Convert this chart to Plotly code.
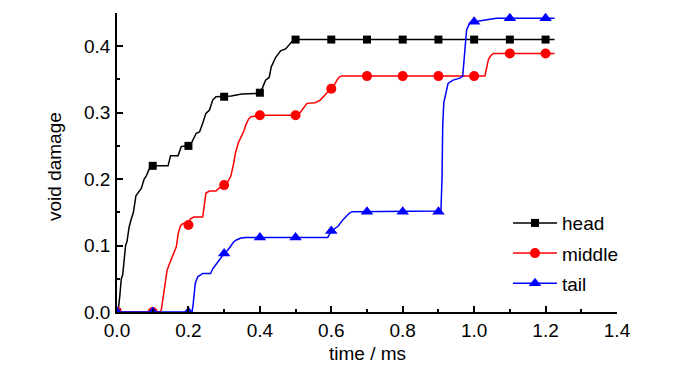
import plotly.graph_objects as go

# ---------------- data ----------------
marker_t = [0.0, 0.1, 0.2, 0.3, 0.4, 0.5, 0.6, 0.7, 0.8, 0.9, 1.0, 1.1, 1.2]
head_marker_v = [0.0, 0.220, 0.250, 0.324, 0.330, 0.410, 0.410, 0.410, 0.410, 0.410, 0.410, 0.410, 0.410]
middle_marker_v = [0.0, 0.0, 0.131, 0.191, 0.296, 0.296, 0.336, 0.355, 0.355, 0.355, 0.355, 0.389, 0.389]
tail_marker_v = [0.0, 0.0, 0.0, 0.088, 0.112, 0.112, 0.122, 0.151, 0.151, 0.151, 0.437, 0.442, 0.442]

head_t = [0.0, 0.004, 0.008, 0.012, 0.016, 0.020, 0.024, 0.028, 0.034, 0.040, 0.046, 0.053,
          0.060, 0.068, 0.076, 0.082, 0.090, 0.100, 0.143, 0.150, 0.171, 0.180, 0.200, 0.210,
          0.222, 0.231, 0.240, 0.249, 0.259, 0.268, 0.277, 0.300, 0.320, 0.338, 0.350, 0.390,
          0.400, 0.407, 0.416, 0.426, 0.432, 0.444, 0.453, 0.458, 0.472, 0.481, 0.490, 0.500, 1.225]
head_v = [0.0, 0.005, 0.025, 0.050, 0.056, 0.080, 0.100, 0.106, 0.128, 0.140, 0.150, 0.175,
          0.180, 0.186, 0.200, 0.205, 0.215, 0.220, 0.220, 0.235, 0.235, 0.249, 0.250, 0.256,
          0.269, 0.271, 0.284, 0.299, 0.304, 0.319, 0.324, 0.324, 0.325, 0.327, 0.328, 0.329,
          0.330, 0.337, 0.349, 0.353, 0.369, 0.383, 0.389, 0.393, 0.396, 0.402, 0.407, 0.410, 0.410]

middle_t = [0.0, 0.120, 0.124, 0.129, 0.134, 0.140, 0.145, 0.152, 0.160, 0.166, 0.172, 0.178,
            0.184, 0.200, 0.205, 0.215, 0.240, 0.244, 0.249, 0.259, 0.277, 0.285, 0.300, 0.310,
            0.319, 0.326, 0.332, 0.340, 0.347, 0.355, 0.361, 0.368, 0.375, 0.400, 0.500, 0.510,
            0.518, 0.525, 0.532, 0.555, 0.569, 0.583, 0.592, 0.600, 0.610, 0.617, 0.623, 0.630,
            1.000, 1.030, 1.034, 1.040, 1.047, 1.054, 1.225]
middle_v = [0.0, 0.0, 0.003, 0.020, 0.035, 0.062, 0.070, 0.080, 0.090, 0.098, 0.120, 0.130,
            0.133, 0.131, 0.140, 0.143, 0.143, 0.160, 0.179, 0.182, 0.182, 0.186, 0.191, 0.196,
            0.205, 0.222, 0.240, 0.255, 0.262, 0.272, 0.282, 0.290, 0.294, 0.296, 0.296, 0.298,
            0.304, 0.310, 0.314, 0.315, 0.319, 0.327, 0.332, 0.336, 0.343, 0.350, 0.354, 0.355,
            0.355, 0.355, 0.365, 0.380, 0.386, 0.389, 0.389]

tail_t = [0.0, 0.210, 0.213, 0.216, 0.219, 0.226, 0.240, 0.262, 0.268, 0.275, 0.282, 0.290,
          0.300, 0.310, 0.319, 0.326, 0.333, 0.345, 0.360, 0.400, 0.500, 0.590, 0.600, 0.610,
          0.619, 0.633, 0.645, 0.651, 0.658, 0.700, 0.900, 0.907, 0.910, 0.912, 0.915, 0.920,
          0.927, 0.941, 0.960, 0.968, 0.971, 0.975, 0.979, 0.988, 1.000, 1.035, 1.063, 1.100, 1.225]
tail_v = [0.0, 0.0, 0.010, 0.030, 0.043, 0.053, 0.058, 0.058, 0.065, 0.070, 0.075, 0.080,
          0.088, 0.093, 0.100, 0.105, 0.108, 0.111, 0.112, 0.112, 0.112, 0.112, 0.122, 0.125,
          0.129, 0.139, 0.146, 0.149, 0.151, 0.151, 0.151, 0.152, 0.200, 0.280, 0.315, 0.327,
          0.344, 0.349, 0.352, 0.355, 0.370, 0.400, 0.425, 0.435, 0.437, 0.440, 0.442, 0.442, 0.442]

series = [
    ("head", head_t, head_v, head_marker_v, "#000000", "square", 8),
    ("middle", middle_t, middle_v, middle_marker_v, "#ff0000", "circle", 10),
    ("tail", tail_t, tail_v, tail_marker_v, "#0000ff", "triangle-up", 11),
]

FONT = "Arial, Liberation Sans, sans-serif"
fig = go.Figure()
for name, t, v, mv, color, sym, size in series:
    fig.add_trace(go.Scatter(x=t, y=v, mode="lines", line=dict(color=color, width=1.5),
                             showlegend=False, hoverinfo="skip"))
    fig.add_trace(go.Scatter(x=marker_t, y=mv, mode="markers",
                             marker=dict(color=color, symbol=sym, size=size, line=dict(width=0)),
                             showlegend=False))
    fig.add_trace(go.Scatter(x=[None], y=[None], mode="lines+markers", name=name,
                             legendgroup=name,
                             line=dict(color=color, width=1.5),
                             marker=dict(color=color, symbol=sym, size=size, line=dict(width=0))))

axis_common = dict(showline=True, linecolor="black", linewidth=1.5, ticks="inside",
                   ticklen=6, tickwidth=1.5, tickcolor="black", showgrid=False, zeroline=False,
                   tickfont=dict(family=FONT, size=19, color="black"), tickformat=".1f",
                   automargin=False)

# the page body adds an 8px offset, so margins are reduced accordingly
fig.update_layout(
    width=700, height=366, autosize=False,
    margin=dict(l=109, r=91, t=5, b=62),
    paper_bgcolor="white", plot_bgcolor="white",
    font=dict(family=FONT, size=19, color="black"),
    xaxis=dict(range=[0, 1.4], dtick=0.2, tick0=0,
               minor=dict(dtick=0.1, ticks="inside", ticklen=3.5, tickwidth=1.5, tickcolor="black"),
               **axis_common),
    yaxis=dict(range=[0, 0.45], dtick=0.1, tick0=0, ticklabelstandoff=1,
               minor=dict(dtick=0.05, ticks="inside", ticklen=3.5, tickwidth=1.5, tickcolor="black"),
               **axis_common),
    legend=dict(x=0.782, y=0.361, xanchor="left", yanchor="top", bgcolor="rgba(0,0,0,0)",
                font=dict(family=FONT, size=19), traceorder="grouped", tracegroupgap=2.5,
                itemwidth=44),
    annotations=[
        dict(text="time / ms", xref="paper", yref="paper", x=0.5, y=-0.14,
             xanchor="center", yanchor="middle", showarrow=False,
             font=dict(family=FONT, size=19, color="black")),
        dict(text="void damage", xref="paper", yref="paper", x=-0.124, y=0.485,
             xanchor="center", yanchor="middle", textangle=-90, showarrow=False,
             font=dict(family=FONT, size=19, color="black")),
    ],
)

fig.write_html("out.html")
